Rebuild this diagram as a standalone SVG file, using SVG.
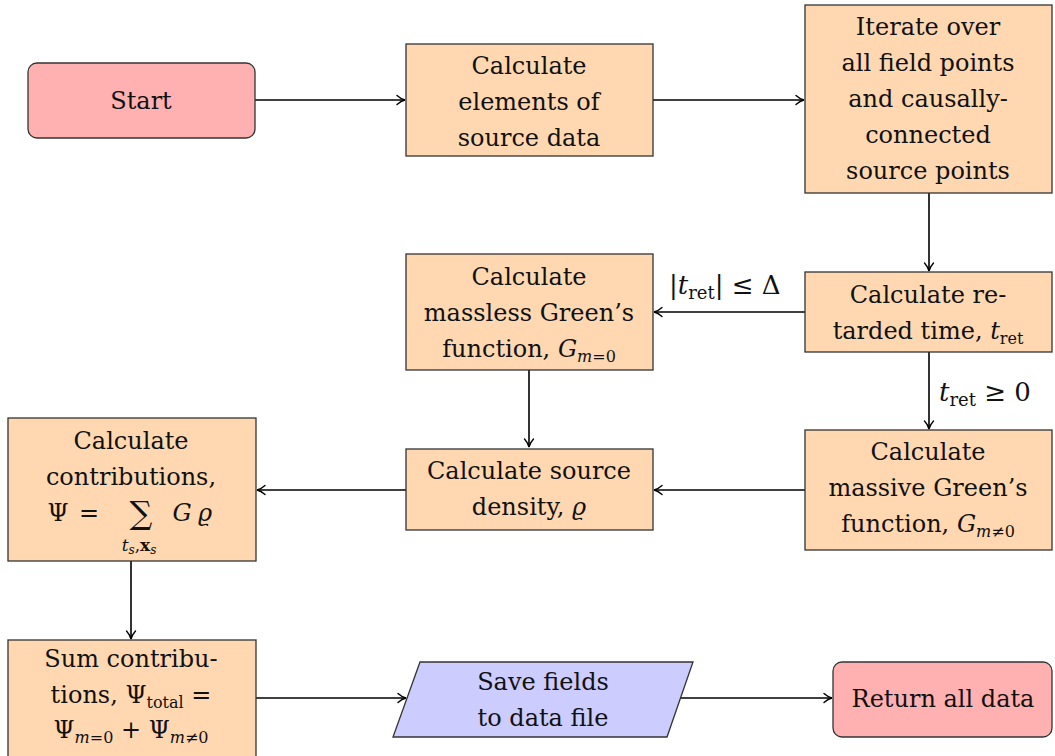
<svg xmlns="http://www.w3.org/2000/svg" width="1055" height="756" viewBox="0 0 1055 756">
<style>
text{font-family:"DejaVu Serif","Liberation Serif",serif;font-size:24px;fill:#111;text-anchor:middle}
.proc{fill:#FFD8B1;stroke:#333;stroke-width:1.3}
.term{fill:#FFB1B2;stroke:#333;stroke-width:1.3}
.io{fill:#CCCCFF;stroke:#333;stroke-width:1.3}
.i{font-style:italic}
.s{font-size:16px}
.lbl{text-anchor:start;font-size:26px}
.lbl .s{font-size:18px}
#connectors path{fill:none;stroke:#000;stroke-width:1.6;marker-end:url(#arr)}
</style>
<defs>
<marker id="arr" viewBox="-10 -6 12 12" refX="0" refY="0" markerWidth="12" markerHeight="12" markerUnits="userSpaceOnUse" orient="auto">
<path d="M-8,-4.5 C-5,-1.8 -2,-0.4 0,0 C-2,0.4 -5,1.8 -8,4.5" fill="none" stroke="#000" stroke-width="1.4" stroke-linecap="round"/>
</marker>
</defs>
<rect width="1055" height="756" fill="#fff"/>
<g id="connectors">
<path d="M255,100 H405"/>
<path d="M653,100 H804"/>
<path d="M929,193 V271"/>
<path d="M805,312 H654"/>
<path d="M929,352 V429"/>
<path d="M529,370 V447"/>
<path d="M805,490 H654"/>
<path d="M406,490 H257"/>
<path d="M131,561 V639"/>
<path d="M256,698 H406"/>
<path d="M680,698 H832"/>
<text class="lbl" x="669" y="294">|<tspan class="i">t</tspan><tspan class="s" dy="5">ret</tspan><tspan dy="-5">| ≤ Δ</tspan></text>
<text class="lbl" x="939" y="401"><tspan class="i">t</tspan><tspan class="s" dy="5">ret</tspan><tspan dy="-5"> ≥ 0</tspan></text>
</g>
<g id="start">
<rect class="term" x="28" y="63" width="227" height="75" rx="9"/>
<text x="141" y="109">Start</text>
</g>
<g id="calc-elements">
<rect class="proc" x="406" y="44" width="247" height="112"/>
<text x="529" y="74">Calculate</text>
<text x="529" y="110">elements of</text>
<text x="529" y="146">source data</text>
</g>
<g id="iterate">
<rect class="proc" x="805" y="5" width="247" height="188"/>
<text x="928" y="35">Iterate over</text>
<text x="928" y="71">all field points</text>
<text x="928" y="107">and causally-</text>
<text x="928" y="143">connected</text>
<text x="928" y="179">source points</text>
</g>
<g id="retarded">
<rect class="proc" x="805" y="272" width="247" height="80"/>
<text x="928" y="303">Calculate re-</text>
<text x="928" y="339">tarded time, <tspan class="i">t</tspan><tspan class="s" dy="5">ret</tspan></text>
</g>
<g id="massless">
<rect class="proc" x="406" y="254" width="247" height="116"/>
<text x="529" y="285">Calculate</text>
<text x="529" y="321">massless Green’s</text>
<text x="529" y="357">function, <tspan class="i">G</tspan><tspan class="s" dy="5"><tspan class="i">m</tspan>=0</tspan></text>
</g>
<g id="massive">
<rect class="proc" x="805" y="430" width="247" height="120"/>
<text x="928" y="460">Calculate</text>
<text x="928" y="496">massive Green’s</text>
<text x="928" y="532">function, <tspan class="i">G</tspan><tspan class="s" dy="5"><tspan class="i">m</tspan>≠0</tspan></text>
</g>
<g id="source-density">
<rect class="proc" x="406" y="449" width="247" height="81"/>
<text x="529" y="479">Calculate source</text>
<text x="529" y="515">density, <tspan class="i">ϱ</tspan></text>
</g>
<g id="contributions">
<rect class="proc" x="8" y="418" width="248" height="143"/>
<text x="131" y="449">Calculate</text>
<text x="131" y="485">contributions,</text>
<text x="58" y="521">Ψ</text>
<text x="89" y="521">=</text>
<text x="141" y="524" style="font-size:32px">∑</text>
<text x="139" y="551" style="font-size:17px"><tspan class="i">t</tspan><tspan dy="3" style="font-size:12px" class="i">s</tspan><tspan dy="-3">,</tspan><tspan font-weight="bold">x</tspan><tspan dy="3" style="font-size:12px" class="i">s</tspan></text>
<text x="182" y="521" class="i">G</text>
<text x="205" y="521" class="i">ϱ</text>
</g>
<g id="sum">
<rect class="proc" x="8" y="640" width="248" height="130"/>
<text x="131" y="667">Sum contribu-</text>
<text x="131" y="703">tions, Ψ<tspan class="s" dy="5">total</tspan><tspan dy="-5"> =</tspan></text>
<text x="131" y="738">Ψ<tspan class="s" dy="5"><tspan class="i">m</tspan>=0</tspan><tspan dy="-5"> + Ψ</tspan><tspan class="s" dy="5"><tspan class="i">m</tspan>≠0</tspan></text>
</g>
<g id="save">
<polygon class="io" points="420,662 693,662 667,737 393,737"/>
<text x="543" y="690">Save fields</text>
<text x="543" y="726">to data file</text>
</g>
<g id="return">
<rect class="term" x="833" y="662" width="219" height="75" rx="9"/>
<text x="943" y="707">Return all data</text>
</g>
</svg>
